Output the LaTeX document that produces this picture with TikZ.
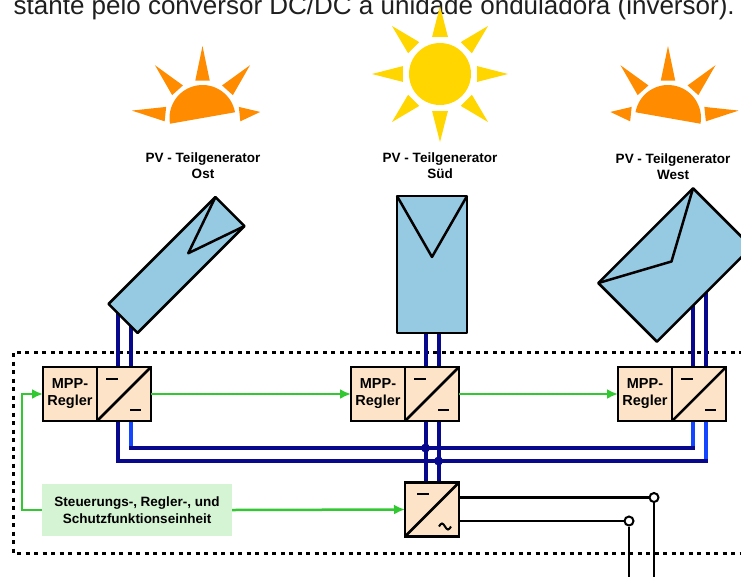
\documentclass[tikz,border=0pt]{standalone}
\usepackage{fontspec}
\setmainfont{Liberation Sans}
\usetikzlibrary{arrows.meta,positioning,calc}

\definecolor{sunorange}{RGB}{255,140,0}
\definecolor{sunyellow}{RGB}{255,214,0}
\definecolor{panelblue}{RGB}{150,202,226}
\definecolor{boxpeach}{RGB}{253,228,200}
\definecolor{unitgreen}{RGB}{212,244,212}
\definecolor{ctlgreen}{RGB}{50,200,50}
\definecolor{busnavy}{RGB}{8,8,140}
\definecolor{busblue}{RGB}{20,70,255}

\pgfdeclarelayer{background}
\pgfsetlayers{background,main}

\begin{document}
\begin{tikzpicture}[x=1pt,y=-1pt,
  lbl/.style={font=\fontsize{13.5}{16.5}\selectfont\bfseries,align=center},
  mpp/.style={draw,line width=2.5pt,fill=boxpeach,minimum width=54pt,
    minimum height=54pt,inner sep=0pt,outer sep=0pt,lbl,
    font=\fontsize{14.5}{17}\selectfont\bfseries},
  conv/.style={draw,line width=2.5pt,fill=boxpeach,minimum width=54pt,
    minimum height=54pt,inner sep=0pt,outer sep=0pt},
  panel/.style={draw,line width=2.5pt,fill=panelblue,inner sep=0pt,
    outer sep=0pt,line join=round},
  term/.style={circle,draw,line width=2pt,fill=white,minimum size=9pt,
    inner sep=0pt},
  wire/.style={line width=4pt,busnavy},
  ctl/.style={line width=2.5pt,ctlgreen,-{Latex[length=11pt,width=10pt]}},
  sign/.style={line width=2pt}]
  \useasboundingbox (0,0) rectangle (741,576);
  \clip (0,0) rectangle (741,576);

  \node[anchor=base east,inner sep=0pt,text=black!88,
    font=\fontsize{26}{30}\selectfont] (topline) at (735,14)
    {stante pelo conversor DC/DC à unidade onduladora (inversor).};

  % suns
  \coordinate (ostS) at (202.5,118);
  \coordinate (sudS) at (440,74);
  \coordinate (westS) at (668,118);
  \fill[sunorange] (ostS) ++(10:33pt) arc[start angle=10,end angle=190,radius=33pt] -- cycle;
  \foreach \a/\r in {6/58,48/71,90/72,132/71,174/71}
    \fill[sunorange] ($(ostS)+(\a:\r pt)$) -- ($(ostS)+(\a+11:38pt)$)
      -- ($(ostS)+(\a-11:38pt)$) -- cycle;
  \fill[sunorange] (westS) ++(-10:33pt) arc[start angle=-10,end angle=170,radius=33pt] -- cycle;
  \foreach \a/\r in {6/71,48/71,90/72,132/71,174/58}
    \fill[sunorange] ($(westS)+(\a:\r pt)$) -- ($(westS)+(\a+11:38pt)$)
      -- ($(westS)+(\a-11:38pt)$) -- cycle;
  \fill[sunyellow] (sudS) circle[radius=31pt];
  \foreach \a in {0,45,...,315}
    \fill[sunyellow] ($(sudS)+(\a:68pt)$) -- ($(sudS)+(\a+12:38pt)$)
      -- ($(sudS)+(\a-12:38pt)$) -- cycle;

  \node[lbl] (ostL) at (203,165.5) {PV - Teilgenerator\\Ost};
  \node[lbl] (sudL) at (440,165.5) {PV - Teilgenerator\\Süd};
  \node[lbl] (westL) at (673,166.5) {PV - Teilgenerator\\West};

  % panels
  \node[panel,minimum width=41pt,minimum height=151pt,rotate=-45] (ostP) at (176.5,265) {};
  \draw[line width=2.5pt,line join=round] (ostP.north west)
    -- ($(ostP.north)!0.39!(ostP.south)$) -- (ostP.north east);
  \node[panel,minimum width=70pt,minimum height=137pt] (sudP) at (432,264.5) {};
  \draw[line width=2.5pt,line join=round] (sudP.north west)
    -- ($(sudP.north)!0.445!(sudP.south)$) -- (sudP.north east);
  \node[panel,minimum width=134pt,minimum height=83pt,rotate=45] (westP) at (675,265) {};
  \draw[line width=2.5pt,line join=round] (westP.north west)
    -- ($(westP.north)!0.44!(westP.south)$) -- (westP.north east);

  % MPP controllers with DC/DC stage
  \node[mpp] (mppA) at (70,394) {MPP-\\Regler};
  \node[conv,right=0pt of mppA] (convA) {};
  \node[mpp] (mppB) at (378,394) {MPP-\\Regler};
  \node[conv,right=0pt of mppB] (convB) {};
  \node[mpp] (mppC) at (645,394) {MPP-\\Regler};
  \node[conv,right=0pt of mppC] (convC) {};
  \node[conv] (inv) at (432,509.5) {};
  \node[fill=unitgreen,minimum width=190pt,minimum height=52pt,lbl] (unit)
    at (137,510) {Steuerungs-, Regler-, und\\Schutzfunktionseinheit};

  \foreach \c in {convA,convB,convC} {
    \draw[line width=2.5pt] (\c.south west) -- (\c.north east);
    \draw[sign] ($(\c.north west)+(9,12)$) -- ++(12,0);
    \draw[sign] ($(\c.north west)+(33,43)$) -- ++(11,0);
  }
  \draw[line width=2.5pt] (inv.south west) -- (inv.north east);
  \draw[sign] ($(inv.north west)+(12,11)$) -- ++(12,0);
  \draw[sign] ($(inv.north west)+(34,44)$) sin ++(3,-3) cos ++(3,3)
    sin ++(3,3) cos ++(3,-3);

  \begin{pgfonlayer}{background}
    \draw[line width=3pt,dash pattern=on 4pt off 4.5pt] (760,352) -| (13,553) -- (760,553);
    \foreach \c/\p in {convA/ostP.south west,convB/sudP.south,convC/westP.center}
      \foreach \dx in {-6.5,6.5}
        \draw[wire] ([xshift=\dx pt]\c.north) -- ([xshift=\dx pt]\c.north |- \p);
    \coordinate (busHi) at (0,448);
    \coordinate (busLo) at (0,461);
    \draw[wire] ([xshift=-6.5pt]convA.south) -- ([xshift=-6.5pt]convA.south |- busLo)
      -| ([xshift=6.5pt]convC.south);
    \draw[wire] ([xshift=6.5pt]convA.south) -- ([xshift=6.5pt]convA.south |- busHi)
      -| ([xshift=-6.5pt]convC.south);
    \draw[wire,busblue,shorten >=2pt] ([xshift=6.5pt]convA.south)
      -- ([xshift=6.5pt]convA.south |- busHi);
    \draw[wire,busblue,shorten >=2pt] ([xshift=-6.5pt]convC.south)
      -- ([xshift=-6.5pt]convC.south |- busHi);
    \draw[wire,busblue,shorten >=2pt] ([xshift=6.5pt]convC.south)
      -- ([xshift=6.5pt]convC.south |- busLo);
    \draw[wire] ([xshift=-6.5pt]convB.south) -- ([xshift=-6.5pt]inv.north);
    \draw[wire] ([xshift=6.5pt]convB.south) -- ([xshift=6.5pt]inv.north);
  \end{pgfonlayer}
  \fill[busnavy] ([xshift=-6.5pt]convB.south |- busHi) circle[radius=4.5pt];
  \fill[busnavy] ([xshift=6.5pt]convB.south |- busLo) circle[radius=4.5pt];

  % control signals
  \draw[ctl] (convA.east) -- (mppB.west);
  \draw[ctl] (convB.east) -- (mppC.west);
  \draw[ctl] (unit.west) -| ($(mppA.west)+(-21,0)$) -- (mppA.west);
  \draw[ctl] (unit.east) -- (inv.west);

  % AC output
  \node[term] (tHi) at (654,497.5) {};
  \node[term] (tLo) at (629,521) {};
  \coordinate (outHi) at (654,590);
  \coordinate (outLo) at (629,590);
  \draw[line width=2.5pt] ([yshift=12pt]inv.east) -- (tHi);
  \draw[line width=2.5pt] ([yshift=-11.5pt]inv.east) -- (tLo);
  \draw[line width=2.5pt] (tHi) -- (outHi);
  \draw[line width=2.5pt] (tLo) -- (outLo);
\end{tikzpicture}
\end{document}
